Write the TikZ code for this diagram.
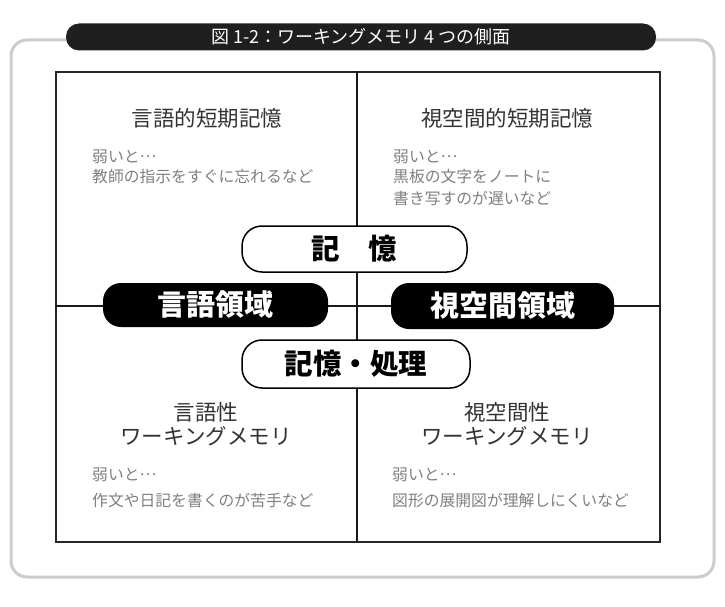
\documentclass[tikz,border=0pt]{standalone}
\usepackage{fontspec}
\setmainfont{Noto Sans CJK JP}
\newcommand{\jdots}{\raisebox{0.3em}{…}}
\begin{document}
\begin{tikzpicture}[x=1pt,y=-1pt,
  frame/.style={draw=black!20, line width=3pt, rounded corners=16pt},
  gridbox/.style={draw=black!85, line width=1.6pt},
  divider/.style={draw=black!90, line width=1.3pt},
  head/.style={font=\fontsize{21.5}{24.5}\selectfont, text=black!80, align=center, inner sep=0pt},
  note/.style={font=\fontsize{15.8}{20}\selectfont, text=black!50, anchor=west, inner sep=0pt},
  pillw/.style={draw=black, line width=1.5pt, fill=white, rounded corners=20pt, font=\bfseries\fontsize{28.5}{30}\selectfont, inner sep=0pt},
  pillb/.style={fill=black, text=white, rounded corners=18pt, font=\bfseries\fontsize{29}{30}\selectfont, inner sep=0pt},
  titlebar/.style={fill=black!88, text=white, rounded corners=13pt, font=\fontsize{18}{20}\selectfont, inner sep=0pt}
]
\useasboundingbox (0,0) rectangle (725,607);
\fill[white] (0,0) rectangle (725,607);
% outer frame
\draw[frame] (11,40) rectangle (714,577);
% title
\node[titlebar, minimum width=590pt, minimum height=27pt] (title) at (361,37) {図 1-2：ワーキングメモリ 4 つの側面};
% main box
\node[gridbox, minimum width=604pt, minimum height=470pt, anchor=north west, inner sep=0pt] (box) at (55,71) {};
\coordinate (vt) at (357,71);
\coordinate (vb) at (357,541);
\coordinate (hl) at (55,306);
\coordinate (hr) at (659,306);
\draw[divider] (vt) -- (vb);
\draw[divider] (hl) -- (hr);
% quadrant texts
\node[head] (h1) at (207,118) {言語的短期記憶};
\node[note] (n1a) at (92,157) {弱いと\jdots};
\node[note] (n1b) at (92,177) {教師の指示をすぐに忘れるなど};
\node[head] (h2) at (507,118) {視空間的短期記憶};
\node[note] (n2a) at (393,157) {弱いと\jdots};
\node[note] (n2b) at (393,177) {黒板の文字をノートに};
\node[note] (n2c) at (393,198) {書き写すのが遅いなど};
\node[head] (h3) at (206,424) {言語性\\ワーキングメモリ};
\node[note] (n3a) at (92,475) {弱いと\jdots};
\node[note] (n3b) at (92,500) {作文や日記を書くのが苦手など};
\node[head] (h4) at (507,424) {視空間性\\ワーキングメモリ};
\node[note] (n4a) at (392,475) {弱いと\jdots};
\node[note] (n4b) at (392,500) {図形の展開図が理解しにくいなど};
% pills
\node[pillw, minimum width=225pt, minimum height=46pt] (kioku) at (354.5,249) {記　憶};
\node[pillb, minimum width=225pt, minimum height=44pt] (gengo) at (215.5,305) {言語領域};
\node[pillb, minimum width=223pt, minimum height=46pt] (shiku) at (502.5,306) {視空間領域};
\node[pillw, minimum width=228pt, minimum height=48pt] (shori) at (356,364) {記憶・処理};
\end{tikzpicture}
\end{document}
